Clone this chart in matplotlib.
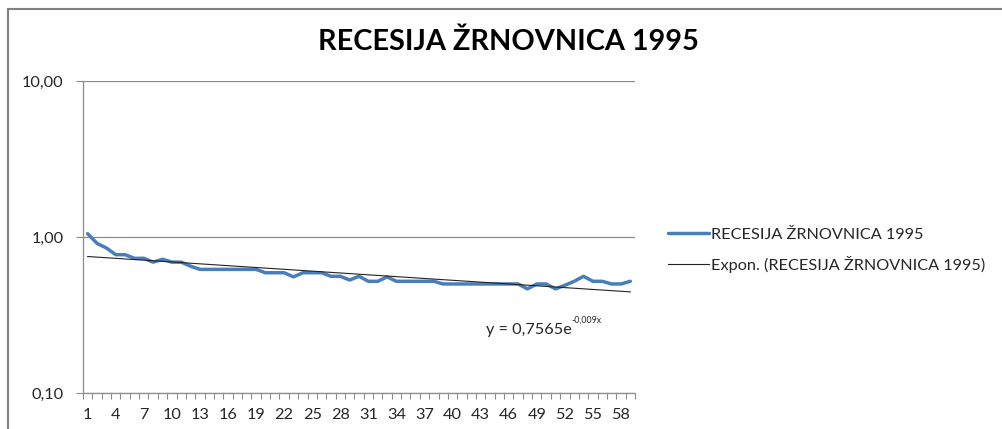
import numpy as np
import matplotlib
matplotlib.use("Agg")
import matplotlib.pyplot as plt
from matplotlib.patches import Rectangle
from matplotlib.ticker import FixedLocator, NullFormatter

# daily values (days 1..59)
days = list(range(1, 60))
recesija = [1.05, 0.91, 0.85, 0.77, 0.77, 0.73, 0.73, 0.69, 0.72, 0.69,
            0.69, 0.65, 0.62, 0.62, 0.62, 0.62, 0.62, 0.62, 0.62, 0.59,
            0.59, 0.59, 0.555, 0.59, 0.59, 0.59, 0.56, 0.56, 0.53, 0.56,
            0.52, 0.52, 0.555, 0.52, 0.52, 0.52, 0.52, 0.52, 0.50, 0.50,
            0.50, 0.50, 0.50, 0.50, 0.50, 0.50, 0.50, 0.465, 0.50, 0.50,
            0.465, 0.49, 0.52, 0.56, 0.52, 0.52, 0.50, 0.50, 0.52]

# exponential trendline shown on the chart
trend_a = 0.7565
trend_b = -0.009

title = "RECESIJA ŽRNOVNICA 1995"
series_label = "RECESIJA ŽRNOVNICA 1995"
trend_label = "Expon. (RECESIJA ŽRNOVNICA 1995)"
y_ticks = [0.1, 1, 10]
y_ticklabels = ["0,10", "1,00", "10,00"]
x_ticks = list(range(1, 60, 3))

plt.rcParams['font.family'] = ['Lato', 'DejaVu Sans']

W, H = 1002, 429
fig = plt.figure(figsize=(W / 100, H / 100), dpi=100)
ax = fig.add_axes([83 / W, 1 - 393 / H, 552 / W, 312 / H])

grey = '#8c8c8c'
txt = '#262626'
fs = 11.7
x = np.array(days)
trend = trend_a * np.exp(trend_b * x)

line1, = ax.plot(x, recesija, color='#4a7ebb', lw=2.5, solid_capstyle='round',
                 solid_joinstyle='round', zorder=3)
line2, = ax.plot(x, trend, color='#222222', lw=0.8, zorder=4)

ax.set_yscale('log')
ax.set_ylim(0.1, 10)
ax.set_xlim(0.5, 59.5)
ax.yaxis.set_major_locator(FixedLocator(y_ticks))
ax.set_yticklabels(y_ticklabels)
ax.yaxis.set_minor_locator(FixedLocator([]))
ax.yaxis.set_minor_formatter(NullFormatter())

# category boundaries carry the tick marks, labels sit every third day
ax.xaxis.set_major_locator(FixedLocator(x_ticks))
ax.set_xticklabels([str(d) for d in x_ticks])
ax.xaxis.set_minor_locator(FixedLocator(np.arange(0.5, 60, 1)))
ax.tick_params(axis='x', which='major', length=0, pad=11, labelsize=fs, colors=txt)
ax.tick_params(axis='x', which='minor', length=4, width=0.8, color=grey)
ax.tick_params(axis='y', which='major', length=5, width=0.8, color=grey, pad=9,
               labelsize=fs, labelcolor=txt)

ax.grid(axis='y', which='major', color=grey, lw=0.9)
for s in ['top', 'right']:
    ax.spines[s].set_visible(False)
for s in ['left', 'bottom']:
    ax.spines[s].set_color(grey)
    ax.spines[s].set_linewidth(0.9)

fig.text(508 / W, 1 - 42 / H, title, ha='center', va='center',
         fontsize=20.8, fontweight='bold', color='#000000')

# trendline equation
ax.text(0.885, 0.202, "y = 0,7565e", transform=ax.transAxes, ha='right',
        va='center', fontsize=fs, color=txt)
ax.text(0.885, 0.232, "-0,009x", transform=ax.transAxes, ha='left',
        va='center', fontsize=6.3, color=txt)

fig.legend([line1, line2], [series_label, trend_label], loc='center left',
           bbox_to_anchor=(668 / W, 1 - 250 / H), frameon=False, fontsize=fs,
           handlelength=2.55, handletextpad=0.1, labelspacing=0.85,
           borderpad=0, borderaxespad=0, labelcolor=txt)

# chart border (only top and left edges visible in the crop)
fig.patches.append(Rectangle((8 / W, -0.1), 1.2, 1.1 - 9 / H, transform=fig.transFigure,
                             fill=False, edgecolor='#808080', lw=1.5, figure=fig))

fig.savefig('out.png', dpi=100)
